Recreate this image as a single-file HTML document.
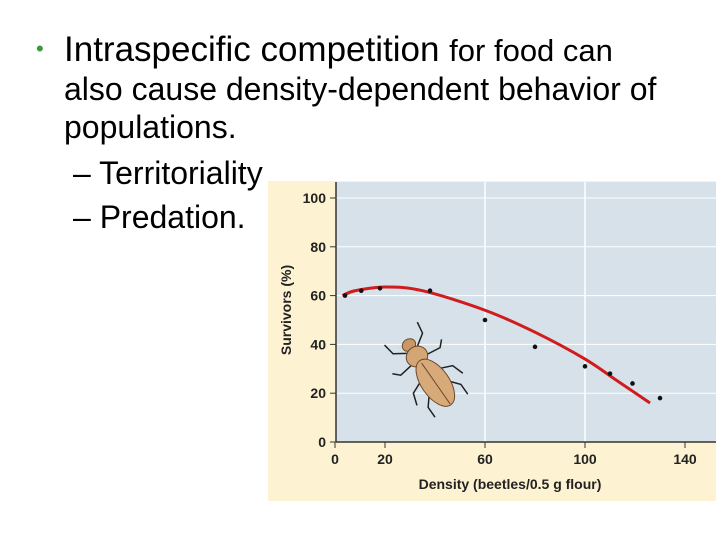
<!DOCTYPE html>
<html><head><meta charset="utf-8"><style>
body{margin:0;width:720px;height:540px;background:#fff;position:relative;overflow:hidden;font-family:"Liberation Sans",sans-serif}
.t{position:absolute;white-space:nowrap;color:#000;line-height:1.15}
</style></head><body>
<div class="t" style="left:36px;top:36px;font-size:22px;color:#3a9a3a">•</div>
<div class="t" style="left:64px;top:30px;font-size:35px">Intraspecific competition <span style="font-size:31px">for food can</span></div>
<div class="t" style="left:64px;top:71px;font-size:32px">also cause density-dependent behavior of</div>
<div class="t" style="left:64px;top:109px;font-size:32px">populations.</div>
<div class="t" style="left:73px;top:155px;font-size:32px">– Territoriality</div>
<div class="t" style="left:73px;top:199px;font-size:32px">– Predation.</div>
<svg id="chart" width="720" height="540" style="position:absolute;left:0;top:0">
<rect x="268" y="181" width="448" height="320" fill="#fdf3d2"/>
<rect x="336" y="182" width="380" height="260" fill="#d6e1ea"/>
<g id="grid"></g><g id="axes"></g><g id="curve"></g><g id="pts"></g>
<g transform="translate(425,368) rotate(-35)">
<g stroke="#222" stroke-width="1.5" fill="none">
<path d="M-6,-22 L-18,-30 L-20,-42"/><path d="M6,-22 L18,-30 L20,-42"/>
<path d="M-9,-10 L-24,-8 L-30,-14"/><path d="M9,-10 L24,-8 L30,-14"/>
<path d="M-10,8 L-24,14 L-28,26"/><path d="M10,8 L24,14 L28,26"/>
<path d="M-10,22 L-20,34 L-20,46"/><path d="M10,22 L20,34 L20,46"/>
</g>
<ellipse cx="0" cy="-28" rx="7" ry="6" fill="#c89868" stroke="#6b4a2a"/>
<ellipse cx="0" cy="-14" rx="11" ry="10" fill="#d4a676" stroke="#6b4a2a"/>
<ellipse cx="0" cy="18" rx="14" ry="27" fill="#d8aa7a" stroke="#6b4a2a"/>
<line x1="0" y1="-6" x2="0" y2="44" stroke="#6b4a2a"/>
</g>
<text transform="translate(291,310) rotate(-90)" text-anchor="middle" font-size="14" font-weight="bold" fill="#222">Survivors (%)</text>
<text x="510" y="489" text-anchor="middle" font-size="14" font-weight="bold" fill="#222">Density (beetles/0.5 g flour)</text>
</svg>
<script>
const xTicks=[0,20,60,100,140];
const yTicks=[0,20,40,60,80,100];
const densities=[4,10.5,18,38,60,80,100,110,119,130];
const survivors=[60,62,63,62,50,39,31,28,24,18];
const curveX=[3,8,20,35,60,80,100,113,126];
const curveY=[60,62,63.5,62,54,45,34,25,16];
const NS="http://www.w3.org/2000/svg";
const sx=v=>335+v*2.5, sy=v=>442-v*2.44;
function mk(t,a,p){const e=document.createElementNS(NS,t);for(const k in a)e.setAttribute(k,a[k]);p.appendChild(e);return e;}
const grid=document.getElementById('grid'),axes=document.getElementById('axes');
yTicks.forEach(v=>{if(v>0){const l=mk('line',{x1:336,x2:716,y1:sy(v),y2:sy(v),stroke:'#fff','stroke-width':1},grid);

}
const tk=mk('line',{x1:330,x2:336,y1:sy(v),y2:sy(v),stroke:'#333'},axes);


const t=mk('text',{x:326,y:sy(v)+5,'text-anchor':'end','font-size':14,'font-weight':'bold',fill:'#222'},axes);t.textContent=v;

});
xTicks.forEach(v=>{if(v===60||v===100){const l=mk('line',{x1:sx(v),x2:sx(v),y1:182,y2:442,stroke:'#fff','stroke-width':1.5},grid);

}
const tk=mk('line',{x1:sx(v),x2:sx(v),y1:442,y2:448,stroke:'#333'},axes);


const t=mk('text',{x:sx(v),y:464,'text-anchor':'middle','font-size':14,'font-weight':'bold',fill:'#222'},axes);t.textContent=v;

});
const ya=mk('line',{x1:336,x2:336,y1:182,y2:442,stroke:'#333','stroke-width':1.5},axes);


const xa=mk('line',{x1:336,x2:716,y1:442,y2:442,stroke:'#333','stroke-width':1.5},axes);


const P=curveX.map((x,i)=>[sx(x),sy(curveY[i])]);
let d='M'+P[0][0]+','+P[0][1];
for(let i=0;i<P.length-1;i++){const p0=P[i-1]||P[i],p1=P[i],p2=P[i+1],p3=P[i+2]||p2;
d+=` C${p1[0]+(p2[0]-p0[0])/6},${p1[1]+(p2[1]-p0[1])/6} ${p2[0]-(p3[0]-p1[0])/6},${p2[1]-(p3[1]-p1[1])/6} ${p2[0]},${p2[1]}`;}
const c=mk('path',{d:d,fill:'none',stroke:'#d01c1c','stroke-width':3},document.getElementById('curve'));


densities.forEach((x,i)=>{const p=mk('circle',{cx:sx(x),cy:sy(survivors[i]),r:2.3,fill:'#111'},document.getElementById('pts'));

});
</script>
</body></html>
